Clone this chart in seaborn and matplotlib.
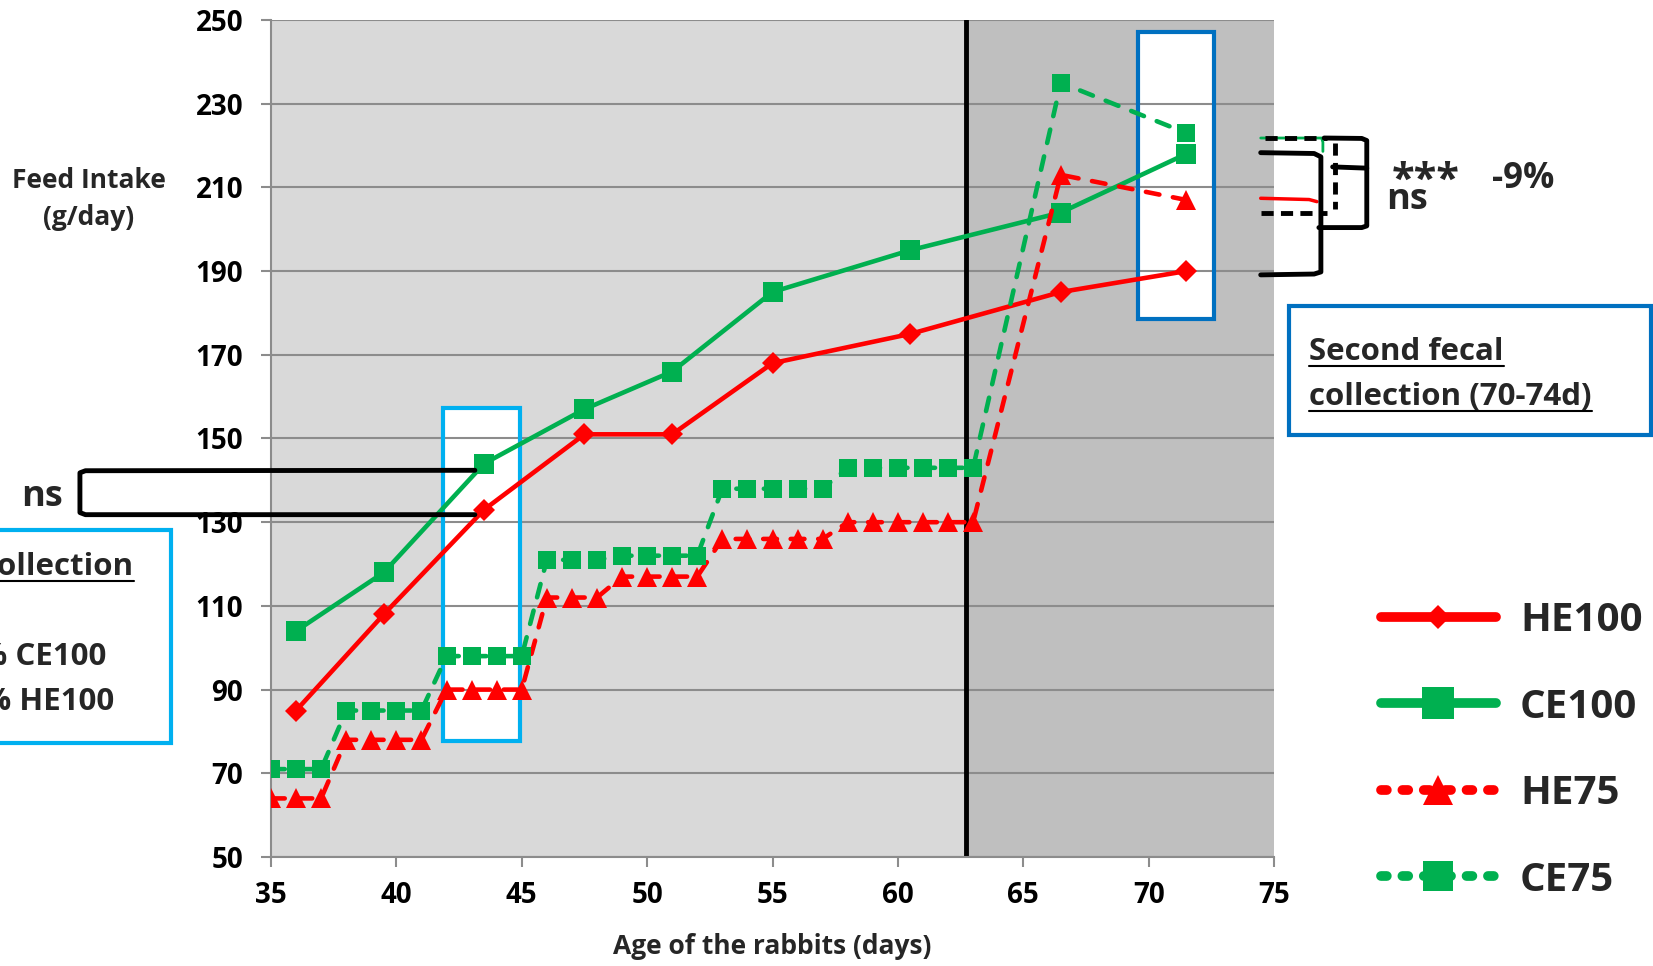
import matplotlib
matplotlib.use("Agg")
import matplotlib.pyplot as plt
import seaborn as sns
from matplotlib.lines import Line2D
from matplotlib.patches import Rectangle
from matplotlib.transforms import IdentityTransform

# weekly measurements (solid lines)
days_week = [36, 39.5, 43.5, 47.5, 51, 55, 60.5, 66.5, 71.5]
he100 = [85, 108, 133, 151, 151, 168, 175, 185, 190]
ce100 = [104, 118, 144, 157, 166, 185, 195, 204, 218]

# daily distributed amounts (dashed lines)
days_daily = [35, 36, 37, 38, 39, 40, 41, 42, 43, 44, 45, 46, 47, 48, 49, 50,
              51, 52, 53, 54, 55, 56, 57, 58, 59, 60, 61, 62, 63, 66.5, 71.5]
he75 = [64, 64, 64, 78, 78, 78, 78, 90, 90, 90, 90, 112, 112, 112, 117, 117,
        117, 117, 126, 126, 126, 126, 126, 130, 130, 130, 130, 130, 130, 213, 207]
ce75 = [71, 71, 71, 85, 85, 85, 85, 98, 98, 98, 98, 121, 121, 121, 122, 122,
        122, 122, 138, 138, 138, 138, 138, 143, 143, 143, 143, 143, 143, 235, 223]

series_names = ["HE100", "CE100", "HE75", "CE75"]
x_ticks = [35, 40, 45, 50, 55, 60, 65, 70, 75]
y_ticks = [50, 70, 90, 110, 130, 150, 170, 190, 210, 230, 250]

RED = "#ff0000"
GREEN = "#00b050"
W, H = 1653, 966

sns.set_style("white")
plt.rcParams["font.family"] = ["Open Sans", "DejaVu Sans"]
plt.rcParams["font.weight"] = "bold"

fig = plt.figure(figsize=(W / 100, H / 100), dpi=100)
ax = fig.add_axes([271 / W, 1 - 857 / H, (1274 - 271) / W, (857 - 20) / H])


def fx(px):
    return px / W


def fy(py):
    return 1 - py / H


# backgrounds
ax.axvspan(35, 62.7, color="#d9d9d9", zorder=0.1, lw=0)
ax.axvspan(62.7, 75, color="#bfbfbf", zorder=0.1, lw=0)
# collection windows
for (x0, x1, y0, y1, col) in [(41.86, 44.93, 77.6, 157.3, "#00b0f0"),
                              (69.57, 72.6, 178.6, 247.1, "#0070c0")]:
    ax.add_patch(Rectangle((x0, y0), x1 - x0, y1 - y0, facecolor="white",
                           edgecolor="none", zorder=0.2))
    ax.add_patch(Rectangle((x0, y0), x1 - x0, y1 - y0, facecolor="none",
                           edgecolor=col, lw=3, zorder=0.6, clip_on=False))
ax.axvline(62.7, color="black", lw=3.5, zorder=1.5)

ax.set_axisbelow(True)
ax.grid(axis="y", color="#8c8c8c", lw=1.5)
ax.grid(axis="x", visible=False)

dash = (0, (3, 3))
sns.lineplot(x=days_week, y=he100, ax=ax, color=RED, marker="D", markersize=11,
             markeredgewidth=0, lw=3.3, errorbar=None, zorder=4,
             solid_capstyle="round")
sns.lineplot(x=days_week, y=ce100, ax=ax, color=GREEN, marker="s", markersize=14,
             markeredgewidth=0, lw=3.3, errorbar=None, zorder=4,
             solid_capstyle="round")
sns.lineplot(x=days_daily, y=he75, ax=ax, color=RED, marker="^", markersize=14,
             markeredgewidth=0, lw=3.3, linestyle=dash, dash_capstyle="round",
             errorbar=None, zorder=4)
sns.lineplot(x=days_daily, y=ce75, ax=ax, color=GREEN, marker="s", markersize=13.5,
             markeredgewidth=0, lw=3.3, linestyle=dash, dash_capstyle="round",
             errorbar=None, zorder=4)

ax.set_xlim(35, 75)
ax.set_ylim(50, 250)
ax.set_xticks(x_ticks)
ax.set_yticks(y_ticks)
ax.tick_params(axis="both", labelsize=20, colors="#8c8c8c", labelcolor="black",
               length=7, width=1.5, direction="out")
ax.tick_params(axis="y", pad=13, left=True)
ax.tick_params(axis="x", pad=10, bottom=True)
for lab in ax.get_xticklabels() + ax.get_yticklabels():
    lab.set_fontweight("bold")
for s in ["top", "right"]:
    ax.spines[s].set_visible(False)
for s in ["left", "bottom"]:
    ax.spines[s].set_color("#8c8c8c")
    ax.spines[s].set_linewidth(1.5)

ax.set_xlabel("Age of the rabbits (days)", fontsize=19, fontweight="bold", va="center")
ax.xaxis.set_label_coords(0.5, (857 - 946) / 837)
ax.set_ylabel("Feed Intake\n(g/day)", fontsize=19, fontweight="bold", rotation=0,
              ha="center", va="center", linespacing=1.45)
ax.yaxis.set_label_coords((89 - 271) / 1003, 1 - (199 - 20) / 837)

# "ns" bracket at the first collection
ax.plot([43.13, 27.6, 27.38, 27.38, 27.6, 43.13],
        [142.4, 142.3, 141.8, 132.3, 131.8, 131.8],
        color="black", lw=3.5, clip_on=False, zorder=5, solid_joinstyle="round")
fig.text(fx(42), fy(497), "ns", fontsize=26, fontweight="bold",
         ha="center", va="center")

# significance brackets at the second collection
kw = dict(clip_on=False, zorder=5, solid_joinstyle="round")
ax.plot([74.47, 76.9, 76.95, 76.95], [221.8, 221.8, 220.8, 218.6],
        color=GREEN, lw=2, **kw)
ax.plot([74.63, 77.1], [221.8, 221.8], color="black", lw=3.5,
        linestyle=(0, (2.5, 1.5)), **kw)
ax.plot([77.0, 78.5, 78.7, 78.7, 78.5, 76.79], [221.8, 221.7, 221.2, 200.8, 200.4, 200.4],
        color="black", lw=3.5, **kw)
ax.plot([77.42, 77.42], [220.6, 204.8], color="black", lw=3.5,
        linestyle=(0, (2.5, 1.5)), **kw)
ax.plot([77.34, 78.7], [214.9, 214.6], color="black", lw=3.5, **kw)
ax.plot([74.47, 76.4, 76.71], [207.4, 207.1, 206.6], color=RED, lw=2.5, **kw)
ax.plot([74.47, 77.1], [204.0, 204.0], color="black", lw=3.5,
        linestyle=(0, (2.5, 1.5)), **kw)
ax.plot([74.47, 76.6, 76.87, 76.87, 76.6, 74.47],
        [218.3, 218.1, 217.3, 189.8, 189.3, 189.1],
        color="black", lw=3.5, **kw)
fig.text(fx(1426), fy(181), "***", fontsize=30, fontweight="bold", ha="center", va="center")
fig.text(fx(1407), fy(200), "ns", fontsize=26, fontweight="bold", ha="center", va="center")
fig.text(fx(1523), fy(179), "-9%", fontsize=25, fontweight="bold", ha="center", va="center")

# text boxes outside the plot
fig.patches.append(Rectangle((fx(-10), fy(743)), fx(181), fy(530) - fy(743),
                             transform=fig.transFigure, facecolor="white",
                             edgecolor="#00b0f0", lw=3, zorder=1))
fig.patches.append(Rectangle((fx(1289), fy(435)), fx(1651 - 1289), fy(306) - fy(435),
                             transform=fig.transFigure, facecolor="white",
                             edgecolor="#0070c0", lw=3, zorder=1))

underlined = [
    fig.text(fx(134), fy(575), "collection", fontsize=22.5, fontweight="bold", ha="right", va="baseline"),
    fig.text(fx(1309), fy(360), "Second fecal", fontsize=22.5, fontweight="bold", ha="left", va="baseline"),
    fig.text(fx(1309), fy(405), "collection (70-74d)", fontsize=22.5, fontweight="bold", ha="left", va="baseline"),
]
fig.text(fx(106), fy(665), "% CE100", fontsize=22.5, fontweight="bold", ha="right", va="baseline")
fig.text(fx(114), fy(710), "% HE100", fontsize=22.5, fontweight="bold", ha="right", va="baseline")

# legend
handles = [
    Line2D([], [], color=RED, lw=7, marker="D", markersize=12.5, markeredgewidth=0,
           solid_capstyle="round"),
    Line2D([], [], color=GREEN, lw=7, marker="s", markersize=23, markeredgewidth=0,
           solid_capstyle="round"),
    Line2D([], [], color=RED, lw=7, marker="^", markersize=22, markeredgewidth=0,
           linestyle=(0, (0.6, 1.6)), dash_capstyle="round"),
    Line2D([], [], color=GREEN, lw=7, marker="s", markersize=22, markeredgewidth=0,
           linestyle=(0, (0.6, 1.6)), dash_capstyle="round"),
]
fig.legend(handles, series_names, loc="upper left", bbox_to_anchor=(fx(1381), fy(601)),
           frameon=False, prop={"size": 29, "weight": "bold"}, handlelength=2.85,
           handletextpad=0.6, labelspacing=1.18, borderpad=0, borderaxespad=0)

fig.canvas.draw()
renderer = fig.canvas.get_renderer()
for t in underlined:
    bb = t.get_window_extent(renderer)
    x, y = t.get_position()
    ybase = y * H - 6
    x0 = max(bb.x0, 0)
    fig.add_artist(Line2D([x0, bb.x1], [ybase, ybase], transform=IdentityTransform(),
                          color="black", lw=1.5))

fig.savefig("out.png", dpi=100)
